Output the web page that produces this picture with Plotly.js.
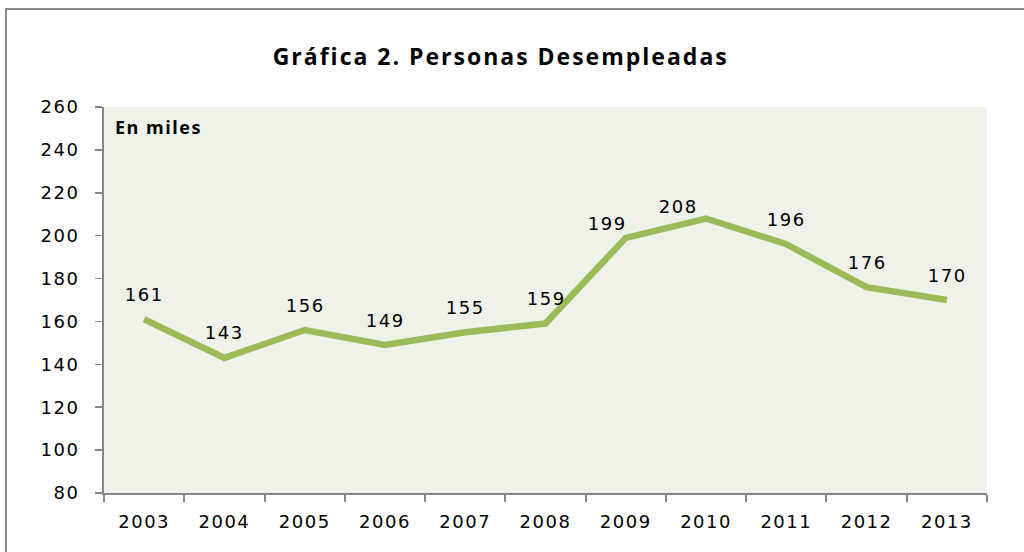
<!DOCTYPE html>
<html>
<head>
<meta charset="utf-8">
<script src="https://cdn.plot.ly/plotly-3.0.1.min.js"></script>
<style>
html,body{margin:0;padding:0;background:#fff;}
#chart{width:1024px;height:552px;}
#chart .xtick text, #chart .ytick text { letter-spacing: 1.5px; }
#chart .gtitle { letter-spacing: 2px; }
#chart .annotation-text { letter-spacing: 1.5px; }
</style>
</head>
<body>
<div id="chart"></div>
<script>
const years = ['2003','2004','2005','2006','2007','2008','2009','2010','2011','2012','2013'];
const desempleados = [161, 143, 156, 149, 155, 159, 199, 208, 196, 176, 170];
// label offsets in pixels (style only)
const labelDx = [0, 0, 0, 0, 0, 0, -19, -28, 0, 0, 0];
const labelDy = [25, 25, 25, 25, 25, 25, 14, 12, 25, 25, 25];
const yTicks = [80, 100, 120, 140, 160, 180, 200, 220, 240, 260];

const trace = {
  x: years,
  y: desempleados,
  type: 'scatter',
  mode: 'lines',
  line: {color: '#9BBB59', width: 6.5},
  hoverinfo: 'skip'
};

const valueLabels = years.map((yr, i) => ({
  x: years.indexOf(yr), y: desempleados[i], xref: 'x', yref: 'y',
  text: String(desempleados[i]),
  showarrow: false,
  xanchor: 'center', yanchor: 'middle',
  xshift: labelDx[i], yshift: labelDy[i],
  font: {family: 'DejaVu Sans', size: 18, color: '#000'}
}));

const layout = {
  width: 1024,
  height: 552,
  margin: {l: 104, r: 37, t: 107, b: 59},
  paper_bgcolor: '#ffffff',
  plot_bgcolor: '#EFF2E9',
  showlegend: false,
  title: {
    text: '<b>Gráfica 2. Personas Desempleadas</b>',
    font: {family: 'Open Sans', size: 23, color: '#000'},
    xref: 'container', x: 0.489, xanchor: 'center',
    yref: 'container', y: 0.897, yanchor: 'middle'
  },
  xaxis: {
    type: 'category',
    range: [-0.5, 10.5],
    showgrid: false,
    zeroline: false,
    showline: true,
    linecolor: '#868686',
    linewidth: 2,
    ticks: 'outside',
    tickson: 'boundaries',
    ticklen: 7,
    tickwidth: 2,
    tickcolor: '#868686',
    tickfont: {family: 'DejaVu Sans', size: 18, color: '#000'},
    ticklabelstandoff: 11,
    fixedrange: true
  },
  yaxis: {
    range: [80, 260],
    tickvals: yTicks,
    ticktext: yTicks.map(String),
    showgrid: false,
    zeroline: false,
    showline: true,
    linecolor: '#868686',
    linewidth: 2,
    ticks: 'outside',
    ticklen: 7,
    tickwidth: 1.5,
    tickcolor: '#868686',
    tickfont: {family: 'DejaVu Sans', size: 18, color: '#000'},
    ticklabelstandoff: 12,
    fixedrange: true
  },
  annotations: [{
    text: '<b>En miles</b>',
    xref: 'paper', yref: 'paper',
    x: 0.017, y: 0.985, xanchor: 'left', yanchor: 'top',
    showarrow: false,
    font: {family: 'Open Sans', size: 18, color: '#000'}
  }].concat(valueLabels),
  shapes: [{
    type: 'rect', xref: 'paper', yref: 'paper',
    x0: -0.111, x1: 1.06, y0: -0.2, y1: 1.254,
    line: {color: '#888888', width: 2},
    fillcolor: 'rgba(0,0,0,0)',
    layer: 'below'
  }]
};

Plotly.newPlot('chart', [trace], layout, {staticPlot: true, displayModeBar: false});
</script>
</body>
</html>
